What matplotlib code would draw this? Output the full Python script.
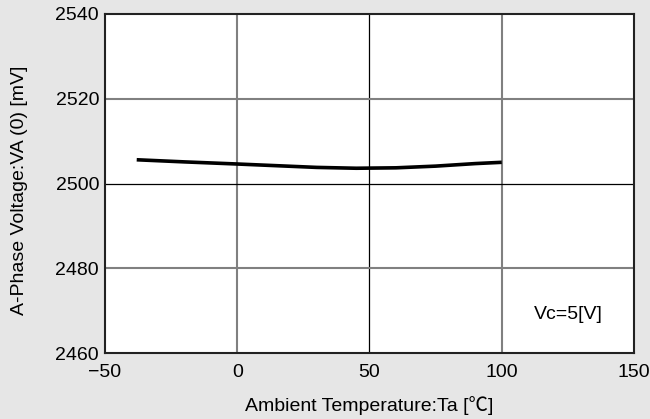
import matplotlib
matplotlib.use("Agg")
import matplotlib.pyplot as plt

# values
temps = [-38, -20, 0, 15, 30, 45, 60, 75, 90, 100]
volts = [2505.6, 2505.1, 2504.6, 2504.2, 2503.8, 2503.6, 2503.7, 2504.1, 2504.7, 2505.0]

x_ticks = [-50, 0, 50, 100, 150]
x_labels = ["\u221250", "0", "50", "100", "150"]
y_ticks = [2460, 2480, 2500, 2520, 2540]

plt.rcParams["font.family"] = ["Liberation Sans", "Noto Sans CJK JP", "DejaVu Sans"]

bg = "#e6e6e6"
fig = plt.figure(figsize=(6.5, 4.19), dpi=100, facecolor=bg)
ax = fig.add_axes([0.1615, 0.1575, 0.8139, 0.8091])
ax.set_facecolor("white")

ax.set_xlim(-50, 150)
ax.set_ylim(2460, 2540)
ax.set_xticks(x_ticks)
ax.set_xticklabels(x_labels)
ax.set_yticks(y_ticks)
ax.tick_params(length=0, labelsize=14)
ax.tick_params(axis="x", pad=8.0)
ax.tick_params(axis="y", pad=4.3)

# grid: alternate gray / black lines like the original
for xv, c, w in [(0, "#808080", 1.5), (50, "black", 0.9), (100, "#808080", 1.5)]:
    ax.axvline(xv, color=c, lw=w, zorder=1)
for yv, c, w in [(2480, "#808080", 1.5), (2500, "black", 0.9), (2520, "#808080", 1.5)]:
    ax.axhline(yv, color=c, lw=w, zorder=1)

for s in ax.spines.values():
    s.set_color("#222222")
    s.set_linewidth(1.5)

ax.plot(temps, volts, color="black", lw=2.6, zorder=3, solid_capstyle="butt")

ax.text(125, 2469, "Vc=5[V]", fontsize=14, ha="center", va="center")

ax.set_xlabel("Ambient Temperature:Ta [\u2103]", fontsize=14, labelpad=11)
ax.set_ylabel("A-Phase Voltage:VA (0) [mV]", fontsize=14, va="center")
ax.yaxis.set_label_coords(-0.161, 0.481)

fig.savefig("out.png", dpi=100, facecolor=bg)
